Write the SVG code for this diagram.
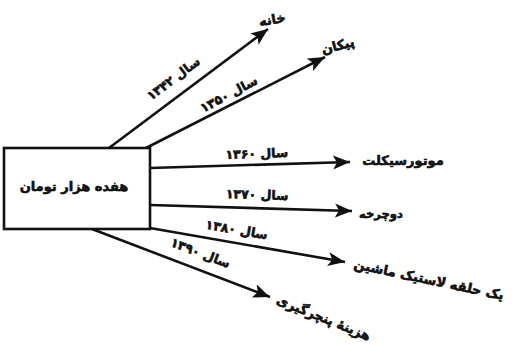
<svg xmlns="http://www.w3.org/2000/svg" width="512" height="346" viewBox="0 0 512 346">
<style>
.t{font-family:"DejaVu Sans",sans-serif;font-weight:bold;fill:#111;stroke:#111;stroke-width:0.6;text-anchor:middle}
.l{font-size:12.5px}
.g{font-size:13px}
.c{stroke:#111;stroke-width:2.6;fill:none;marker-end:url(#ah)}
</style>
<defs>
<marker id="ah" markerUnits="userSpaceOnUse" markerWidth="18" markerHeight="14" refX="17" refY="7" orient="auto">
<path d="M0,0 L17,7 L0,14 L4,7 z" fill="#111"/>
</marker>
</defs>
<rect width="512" height="346" fill="#fff"/>
<g id="connectors">
<line class="c" x1="109" y1="148" x2="268" y2="29"/>
<line class="c" x1="146" y1="148" x2="325" y2="57"/>
<line class="c" x1="150" y1="168" x2="350" y2="162"/>
<line class="c" x1="150" y1="205" x2="352" y2="211"/>
<line class="c" x1="150" y1="228" x2="345" y2="262"/>
<line class="c" x1="92" y1="229" x2="270" y2="297"/>
<text class="t l" transform="translate(176,82) rotate(-37)">سال ۱۳۴۲</text>
<text class="t l" transform="translate(231,98) rotate(-28)">سال ۱۳۵۰</text>
<text class="t l" transform="translate(257,158) rotate(-2)">سال ۱۳۶۰</text>
<text class="t l" transform="translate(257,199) rotate(2)">سال ۱۳۷۰</text>
<text class="t l" transform="translate(236,234) rotate(10)">سال ۱۳۸۰</text>
<text class="t l" transform="translate(199,257) rotate(21)">سال ۱۳۹۰</text>
</g>
<g id="source">
<rect x="4" y="148" width="146" height="81" fill="#fff" stroke="#111" stroke-width="2.6"/>
<text class="t" font-size="13" x="74" y="191">هفده هزار تومان</text>
</g>
<g id="n1"><text class="t g" transform="translate(273,24) rotate(-10)">خانه</text></g>
<g id="n2"><text class="t g" transform="translate(339,50) rotate(-15)">پیکان</text></g>
<g id="n3"><text class="t g" x="403" y="165">موتورسیکلت</text></g>
<g id="n4"><text class="t" font-size="11.5" x="381" y="218">دوچرخه</text></g>
<g id="n5"><text class="t g" transform="translate(428,284) rotate(12)">یک حلقه لاستیک ماشین</text></g>
<g id="n6"><text class="t g" transform="translate(322,322) rotate(22)">هزینهٔ پنچرگیری</text></g>
</svg>
